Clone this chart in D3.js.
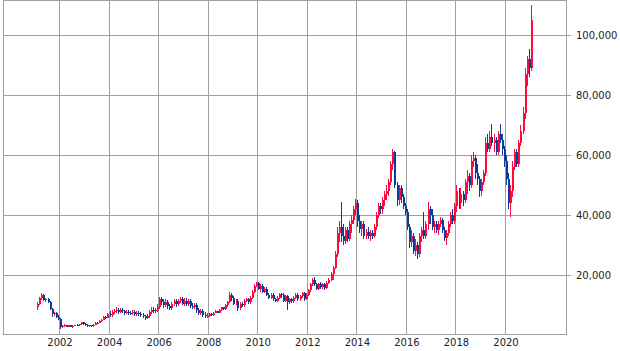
<!DOCTYPE html>
<html lang="en">
<head>
<meta charset="UTF-8">
<title>monthly candles</title>
<style>
  body { margin: 0; background: #fff; }
  .grid line, .frame { stroke: #a0a0a0; stroke-width: 1px; fill: none; shape-rendering: crispEdges; }
  .axis text { font-family: "DejaVu Sans", sans-serif; font-size: 10px; fill: #222; }
  .axis line { stroke: #a0a0a0; shape-rendering: crispEdges; }
  .axis path { display: none; }
</style>
</head>
<body>
<div id="chart"></div>
<script src="https://d3js.org/d3.v7.min.js"></script>
<script>
// monthly OHLC, values in thousands, first candle = Feb 2001
var firstMonth = new Date(2001, 1, 1);

var opens = [
  9.3, 10.4, 12.3, 13.4, 11.6, 12.0, 11.0, 8.8, 7.0, 7.3, 6.1,
  5.5, 2.6, 3.1, 3.3, 2.8, 3.2, 2.8, 3.1, 3.4, 3.2, 3.6, 4.2,
  3.7, 3.4, 3.0, 3.2, 2.9, 3.5, 4.1, 4.0, 4.7, 5.1, 6.0, 5.7,
  7.0, 6.6, 7.6, 8.0, 8.5, 7.8, 8.4, 7.9, 7.5, 7.8, 7.4, 7.2,
  7.6, 7.1, 7.4, 7.0, 6.6, 6.2, 5.8, 6.4, 7.6, 8.5, 8.0, 8.4,
  9.5, 12.0, 11.0, 10.0, 11.0, 9.6, 9.0, 10.3, 11.2, 10.2, 11.3, 12.0,
  10.5, 11.5, 10.3, 11.2, 9.8, 9.3, 10.0, 8.2, 7.3, 8.0, 6.8, 6.3,
  6.5, 7.0, 6.6, 7.5, 7.9, 7.4, 8.4, 9.2, 8.6, 10.0, 11.0, 13.5,
  12.5, 10.5, 11.5, 9.0, 10.5, 10.0, 11.5, 12.0, 11.0, 12.5, 14.5, 16.5,
  17.5, 15.5, 16.5, 14.5, 15.5, 13.5, 12.5, 13.5, 12.0, 11.5, 12.5, 13.8,
  13.5, 11.5, 13.0, 11.0, 12.0, 11.2, 12.5, 13.5, 12.0, 13.0, 14.0, 12.0,
  13.5, 15.0, 17.0, 18.5, 17.0, 15.5, 17.0, 16.0, 17.0, 15.8, 17.5, 18.5,
  20.5, 22.5, 27.0, 34.0, 36.0, 33.0, 31.5, 35.0, 32.0, 37.0, 38.5, 42.0,
  44.0, 38.0, 35.5, 37.0, 33.0, 34.5, 33.0, 34.0, 33.0, 36.0, 40.0, 43.0,
  42, 45, 47, 48, 51, 57, 61, 50, 45, 49, 46, 43,
  41, 36, 31, 33, 28, 30, 27, 33, 35, 33, 37, 42,
  40, 36, 37, 35, 37, 38.5, 35, 32.5, 34, 37, 40, 38,
  43, 48, 44, 47, 45, 51, 53, 50, 58, 59, 54, 52,
  48, 51, 54, 64, 62, 66, 64, 65, 61, 67, 65, 62,
  58, 52, 44, 48, 56, 61, 57, 64, 68, 74, 87, 92,
  89
];
var highs = [
  10.9, 12.6, 14.0, 13.8, 12.4, 12.2, 11.3, 9.0, 7.8, 7.6, 6.8,
  5.8, 3.4, 3.6, 3.5, 3.4, 3.3, 3.3, 3.5, 3.6, 3.8, 4.4, 4.3,
  3.9, 3.6, 3.4, 3.4, 3.7, 4.3, 4.5, 4.9, 5.4, 6.2, 6.4, 7.2,
  7.9, 8.2, 8.7, 9.2, 9.1, 9.1, 9.0, 8.5, 8.4, 8.4, 8.1, 8.2,
  8.3, 8.0, 7.9, 7.6, 7.2, 6.8, 7.0, 8.2, 9.2, 9.2, 9.1, 10.2,
  12.6, 12.6, 11.9, 11.9, 11.7, 10.4, 10.9, 11.9, 11.9, 11.9, 12.7, 12.6,
  12.4, 12.2, 11.9, 11.9, 10.6, 10.7, 10.6, 9.0, 8.7, 8.6, 7.6, 7.4,
  7.5, 7.5, 7.8, 8.2, 8.1, 8.6, 9.5, 9.5, 10.3, 11.5, 14.4, 14.0,
  13.0, 12.0, 12.0, 11.0, 11.0, 12.0, 12.5, 12.5, 13.0, 15.0, 17.0, 17.8,
  17.8, 17.0, 17.0, 16.0, 16.0, 14.0, 14.0, 14.0, 12.5, 13.0, 14.0, 14.0,
  14.0, 13.5, 13.5, 12.5, 12.5, 13.0, 14.0, 14.0, 13.5, 14.4, 14.4, 14.0,
  15.5, 17.5, 19.0, 19.3, 17.5, 17.5, 17.8, 17.5, 17.5, 18.0, 19.0, 21.0,
  23.0, 28.0, 36.0, 38.0, 44.4, 37.0, 36.0, 36.0, 38.0, 40.0, 43.0, 45.2,
  45.0, 40.0, 38.0, 38.0, 35.5, 36.0, 35.0, 35.0, 37.0, 41.0, 44.0, 44.0,
  46, 48, 50, 52, 58, 62, 61.5, 51, 50, 50, 47, 44,
  42, 37, 35, 34, 32, 31, 34, 36, 41, 38, 44.3, 43,
  42, 38, 38, 38, 39.5, 39, 36, 35, 38, 41, 42, 44,
  50, 49, 49, 48, 52, 55, 54, 60, 61, 60, 57, 53,
  52, 55, 66, 67, 68, 70.3, 67, 66, 68, 70.3, 67, 63,
  60, 54, 50, 58, 62, 62, 65, 70, 76, 89, 93, 95.5,
  110
];
var lows = [
  8.2, 10.0, 11.8, 11.2, 11.0, 10.6, 8.4, 6.0, 6.2, 5.8, 5.0,
  2.0, 2.2, 2.7, 2.6, 2.6, 2.6, 2.5, 2.9, 3.0, 3.0, 3.4, 3.5,
  3.1, 2.8, 2.6, 2.7, 2.8, 3.4, 3.8, 3.9, 4.4, 5.0, 5.4, 5.6,
  5.9, 6.0, 6.9, 7.2, 7.1, 7.2, 7.2, 6.8, 6.9, 6.8, 6.6, 6.6,
  6.5, 6.5, 6.4, 6.0, 5.6, 5.1, 5.2, 5.8, 7.0, 7.4, 7.3, 7.8,
  8.6, 10.1, 9.1, 9.4, 8.8, 8.2, 8.4, 9.6, 9.4, 9.6, 10.6, 9.9,
  9.6, 9.6, 9.6, 9.1, 8.6, 8.6, 7.4, 6.6, 6.6, 6.1, 5.6, 5.6,
  6.0, 6.2, 6.3, 7.2, 7.2, 7.2, 8.0, 8.3, 8.3, 9.5, 10.6, 11.5,
  10.0, 10.0, 8.0, 8.5, 9.5, 9.5, 11.0, 10.5, 10.5, 12.0, 14.0, 16.0,
  15.0, 14.5, 14.0, 14.0, 13.0, 12.0, 12.0, 11.5, 11.0, 11.0, 12.0, 12.5,
  11.0, 11.0, 8.3, 10.5, 10.8, 10.8, 12.0, 11.5, 11.5, 12.5, 11.5, 11.8,
  13.0, 14.5, 16.5, 16.5, 15.0, 15.0, 15.3, 15.5, 15.0, 15.5, 17.0, 18.0,
  18.5, 22.0, 26.0, 31.0, 31.0, 30.0, 30.5, 31.0, 31.5, 34.0, 37.0, 40.0,
  36.0, 34.0, 33.0, 32.0, 32.0, 32.0, 31.5, 32.0, 32.5, 35.0, 39.0, 40.5,
  40.5, 43, 45, 46.5, 50, 55, 49, 43, 43.5, 44, 42, 40,
  35, 29, 29.5, 27, 26.5, 25.3, 26, 31, 32, 32, 35, 37,
  35, 34, 34, 33.5, 36, 34, 31.5, 30, 33, 36, 37, 37,
  41, 42, 42, 43, 44, 47, 48, 49, 56, 52, 50, 46,
  46.5, 50, 53, 61, 61, 63, 61, 60, 60, 64, 60, 56,
  50, 42, 39.3, 46, 55, 56, 56, 63, 67, 72, 83, 86,
  88
];
var closes = [
  10.4, 12.3, 13.4, 11.6, 12.0, 11.0, 8.8, 7.0, 7.3, 6.1, 5.5,
  2.6, 3.1, 3.3, 2.8, 3.2, 2.8, 3.1, 3.4, 3.2, 3.6, 4.2, 3.7,
  3.4, 3.0, 3.2, 2.9, 3.5, 4.1, 4.0, 4.7, 5.1, 6.0, 5.7, 7.0,
  6.6, 7.6, 8.0, 8.5, 7.8, 8.4, 7.9, 7.5, 7.8, 7.4, 7.2, 7.6,
  7.1, 7.4, 7.0, 6.6, 6.2, 5.8, 6.4, 7.6, 8.5, 8.0, 8.4, 9.5,
  12.0, 11.0, 10.0, 11.0, 9.6, 9.0, 10.3, 11.2, 10.2, 11.3, 12.0, 10.5,
  11.5, 10.3, 11.2, 9.8, 9.3, 10.0, 8.2, 7.3, 8.0, 6.8, 6.3, 6.5,
  7.0, 6.6, 7.5, 7.9, 7.4, 8.4, 9.2, 8.6, 10.0, 11.0, 13.5, 12.5,
  10.5, 11.5, 9.0, 10.5, 10.0, 11.5, 12.0, 11.0, 12.5, 14.5, 16.5, 17.5,
  15.5, 16.5, 14.5, 15.5, 13.5, 12.5, 13.5, 12.0, 11.5, 12.5, 13.8, 13.5,
  11.5, 13.0, 11.0, 12.0, 11.2, 12.5, 13.5, 12.0, 13.0, 14.0, 12.0, 13.5,
  15.0, 17.0, 18.5, 17.0, 15.5, 17.0, 16.0, 17.0, 15.8, 17.5, 18.5, 20.5,
  22.5, 27.0, 34.0, 36.0, 33.0, 31.5, 35.0, 32.0, 37.0, 38.5, 42.0, 44.0,
  38.0, 35.5, 37.0, 33.0, 34.5, 33.0, 34.0, 33.0, 36.0, 40.0, 43.0, 42.0,
  45, 47, 48, 51, 57, 61, 50, 45, 49, 46, 43, 41,
  36, 31, 33, 28, 30, 27, 33, 35, 33, 37, 42, 40,
  36, 37, 35, 37, 38.5, 35, 32.5, 34, 37, 40, 38, 43,
  48, 44, 47, 45, 51, 53, 50, 58, 59, 54, 52, 48,
  51, 54, 64, 62, 66, 64, 65, 61, 67, 65, 62, 58,
  52, 44, 48, 56, 61, 57, 64, 68, 74, 87, 92, 89,
  105
];

var yearTicks = [2002, 2004, 2006, 2008, 2010, 2012, 2014, 2016, 2018, 2020];
var valueTicks = [20, 40, 60, 80, 100];

var upColor = "#ff0a3e";
var downColor = "#0b3c9c";

var width = 620, height = 351;
var plot = {left: 3, right: 566, top: 0, bottom: 334};

var svg = d3.select("#chart").append("svg")
    .attr("width", width)
    .attr("height", height);

var x = d3.scaleTime()
    .domain([new Date(2002, 0, 1), new Date(2020, 0, 1)])
    .range([59.5, 505.5]);

var y = d3.scaleLinear()
    .domain([0, 100])
    .range([335, 35]);

var candles = opens.map(function(o, i) {
  var start = d3.timeMonth.offset(firstMonth, i);
  return {
    date: d3.timeDay.offset(start, 15),
    o: o, h: highs[i], l: lows[i], c: closes[i]
  };
});

// grid
var grid = svg.append("g").attr("class", "grid");
grid.selectAll(".h").data(valueTicks).enter().append("line")
    .attr("x1", plot.left).attr("x2", plot.right + 5)
    .attr("y1", function(d) { return Math.round(y(d)) + 0.5; })
    .attr("y2", function(d) { return Math.round(y(d)) + 0.5; });
grid.selectAll(".v").data(yearTicks).enter().append("line")
    .attr("x1", function(d) { return Math.floor(x(new Date(d, 0, 1))) + 0.5; })
    .attr("x2", function(d) { return Math.floor(x(new Date(d, 0, 1))) + 0.5; })
    .attr("y1", plot.top).attr("y2", plot.bottom);

svg.append("rect").attr("class", "frame")
    .attr("x", plot.left + 0.5).attr("y", plot.top + 0.5)
    .attr("width", plot.right - plot.left)
    .attr("height", plot.bottom - plot.top);

// candles
var cg = svg.append("g").attr("shape-rendering", "crispEdges");
var candle = cg.selectAll("g").data(candles).enter().append("g");
candle.append("line")
    .attr("x1", function(d) { return Math.floor(x(d.date)) + 0.5; })
    .attr("x2", function(d) { return Math.floor(x(d.date)) + 0.5; })
    .attr("y1", function(d) { return y(d.h); })
    .attr("y2", function(d) { return y(d.l); })
    .attr("stroke", function(d) { return d.c >= d.o ? upColor : downColor; })
    .attr("stroke-width", 1);
candle.append("rect")
    .attr("x", function(d) { return Math.floor(x(d.date)) - 0.5; })
    .attr("width", 2)
    .attr("y", function(d) { return y(Math.max(d.o, d.c)); })
    .attr("height", function(d) { return Math.max(1, Math.abs(y(d.o) - y(d.c))); })
    .attr("fill", function(d) { return d.c >= d.o ? upColor : downColor; });

// axes
svg.append("g").attr("class", "axis")
    .attr("transform", "translate(" + plot.right + ",0)")
    .call(d3.axisRight(y).tickValues(valueTicks).tickSize(0).tickPadding(10)
      .tickFormat(function(d) { return d3.format(",")(d * 1000); }));

svg.append("g").attr("class", "axis")
    .attr("transform", "translate(0," + plot.bottom + ")")
    .call(d3.axisBottom(x)
      .tickValues(yearTicks.map(function(d) { return new Date(d, 0, 1); }))
      .tickSize(0).tickPadding(5)
      .tickFormat(d3.timeFormat("%Y")));
</script>
</body>
</html>
